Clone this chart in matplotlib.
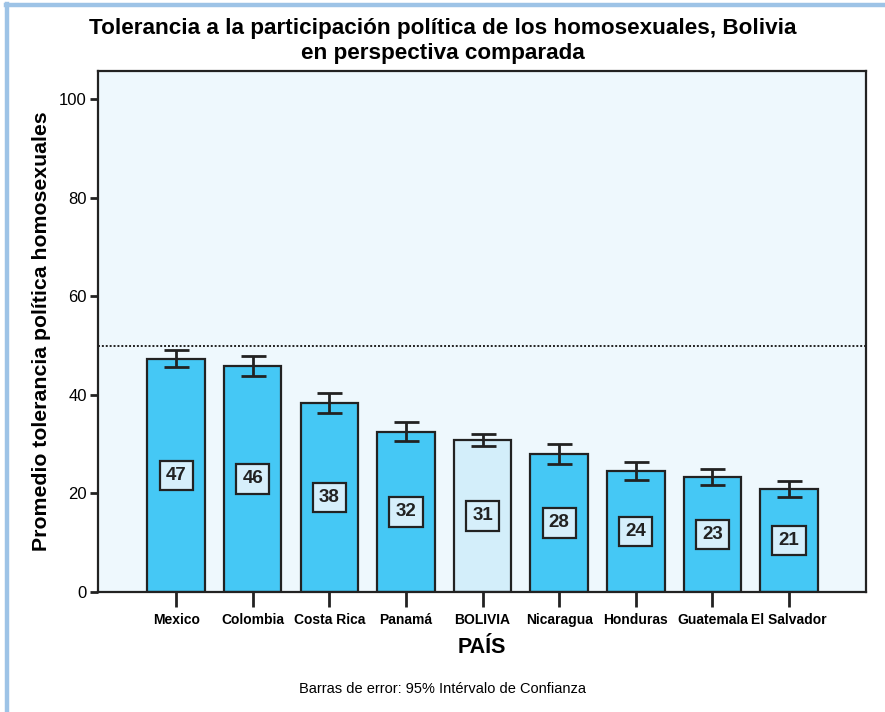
import matplotlib
matplotlib.use("Agg")
import matplotlib.pyplot as plt
from matplotlib.lines import Line2D

plt.rcParams['font.family'] = ['Liberation Sans', 'DejaVu Sans']

countries = ["Mexico", "Colombia", "Costa Rica", "Panamá", "BOLIVIA",
             "Nicaragua", "Honduras", "Guatemala", "El Salvador"]
means = [47.3, 45.9, 38.3, 32.5, 30.9, 28.0, 24.5, 23.4, 20.9]
errors = [1.75, 2.05, 2.0, 1.9, 1.2, 2.0, 1.85, 1.6, 1.55]
labels = ["47", "46", "38", "32", "31", "28", "24", "23", "21"]
reference_line = 50
yticks = [0, 20, 40, 60, 80, 100]

bar_color = "#45C8F5"
highlight_color = "#D3EEFA"
bg_color = "#EEF8FD"
edge = "#222222"

fig = plt.figure(figsize=(8.85, 7.12), dpi=100)
fig.patch.set_facecolor("white")

# decorative border (left and top)
fig.add_artist(Line2D([7/885, 7/885], [0, 1 - 4/712], color="#9DC3E6", lw=3.2,
                      transform=fig.transFigure))
fig.add_artist(Line2D([5.5/885, 1], [1 - 4.5/712, 1 - 4.5/712], color="#9DC3E6", lw=3.2,
                      transform=fig.transFigure))

ax = fig.add_axes([98/885, 1 - 592/712, (866 - 98)/885, (592 - 71)/712])
ax.set_facecolor(bg_color)

x = list(range(len(countries)))
colors = [highlight_color if c == "BOLIVIA" else bar_color for c in countries]
ax.bar(x, means, width=0.75, color=colors, edgecolor=edge, linewidth=1.6, zorder=2)
ax.errorbar(x, means, yerr=errors, fmt="none", ecolor=edge, elinewidth=2,
            capsize=9, capthick=2, zorder=3)

for xi, m, lab in zip(x, means, labels):
    ax.text(xi, m / 2, lab, ha="center", va="center", fontsize=13.5,
            fontweight="bold", color="#222222", zorder=4,
            bbox=dict(boxstyle="square,pad=0.33", facecolor="#D6EFFB",
                      edgecolor=edge, linewidth=1.6))

ax.axhline(reference_line, color="#222222", linestyle=(0, (1, 1)), lw=1.4, zorder=1)

ax.set_xlim(-1.02, len(countries) - 1 + 1.005)
ax.set_ylim(0, 105.7)
ax.set_yticks(yticks)
ax.set_xticks(x)
ax.set_xticklabels(countries, fontsize=10, fontweight="bold")
ax.tick_params(axis="x", length=11, width=2, color=edge, pad=4, direction="out")
ax.tick_params(axis="y", length=6, width=2, color=edge, labelsize=12, pad=2)
for sp in ax.spines.values():
    sp.set_color(edge)
    sp.set_linewidth(1.6)

ax.set_ylabel("Promedio tolerancia política homosexuales", fontsize=15.3,
              fontweight="bold", labelpad=6)
ax.set_xlabel("PAÍS", fontsize=15.5, fontweight="bold", labelpad=7)

fig.text(0.5, 1 - 41/712, "Tolerancia a la participación política de los homosexuales, Bolivia\nen perspectiva comparada",
         ha="center", va="center", fontsize=16.2, fontweight="bold", linespacing=1.25)
fig.text(0.5, 1 - 689/712, "Barras de error: 95% Intérvalo de Confianza",
         ha="center", va="center", fontsize=10.5)

fig.savefig("out.png", dpi=100)
